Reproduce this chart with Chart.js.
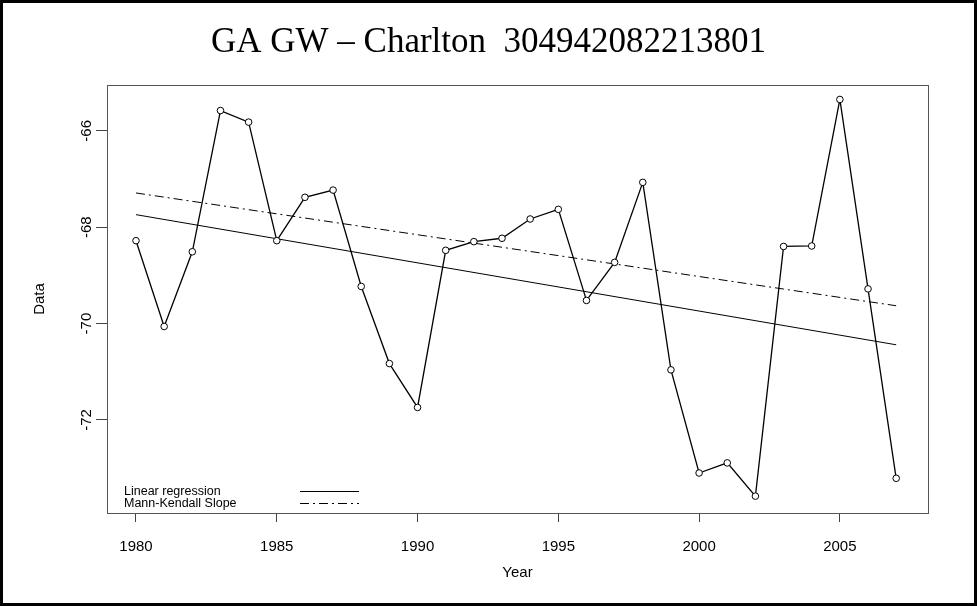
<!DOCTYPE html>
<html>
<head>
<meta charset="utf-8">
<script src="https://cdn.jsdelivr.net/npm/chart.js@4/dist/chart.umd.min.js"></script>
<style>
  body { margin: 0; background: #fff; }
  canvas { display: block; }
</style>
</head>
<body>
<canvas id="gwChart" width="977" height="606"></canvas>
<script>
const years = [1980, 1981, 1982, 1983, 1984, 1985, 1986, 1987, 1988, 1989,
  1990, 1991, 1992, 1993, 1994, 1995, 1996, 1997, 1998, 1999,
  2000, 2001, 2002, 2003, 2004, 2005, 2006, 2007];
const levels = [-68.28, -70.06, -68.51, -65.58, -65.82, -68.28, -67.38, -67.23, -69.23, -70.83,
  -71.74, -68.48, -68.30, -68.23, -67.83, -67.63, -69.52, -68.73, -67.07, -70.96,
  -73.10, -72.89, -73.58, -68.40, -68.39, -65.35, -69.28, -73.21];

// trend lines, end points only
const trendYears = [1980, 2007];
const linearFit = [-67.74, -70.44];
const mannKendall = [-67.29, -69.63];

const xTicks = [1980, 1985, 1990, 1995, 2000, 2005];
const yTicks = [-72, -70, -68, -66];
const legendLabels = ['Linear regression', 'Mann-Kendall Slope'];

const toPoints = (xs, ys) => xs.map((x, i) => ({ x: x, y: ys[i] }));

// frame, plot box, rotated y labels and legend
const decorations = {
  id: 'decorations',
  beforeDraw(chart) {
    const ctx = chart.ctx;
    ctx.save();
    ctx.fillStyle = '#fff';
    ctx.fillRect(0, 0, chart.width, chart.height);
    ctx.restore();
  },
  afterDraw(chart) {
    const ctx = chart.ctx;
    const area = chart.chartArea;
    const yScale = chart.scales.y;
    ctx.save();

    ctx.strokeStyle = '#555';
    ctx.lineWidth = 1;
    ctx.strokeRect(area.left + 0.5, area.top + 0.5, area.right - area.left, area.bottom - area.top);

    ctx.strokeStyle = '#000';
    ctx.lineWidth = 3;
    ctx.strokeRect(1.5, 1.5, chart.width - 3, chart.height - 3);

    ctx.fillStyle = '#000';
    ctx.font = '15px "Liberation Sans", Arial, sans-serif';
    ctx.textAlign = 'center';
    ctx.textBaseline = 'middle';
    yTicks.forEach(v => {
      ctx.save();
      ctx.translate(87, yScale.getPixelForValue(v));
      ctx.rotate(-Math.PI / 2);
      ctx.fillText(String(v), 0, 0);
      ctx.restore();
    });

    ctx.font = '12.5px "Liberation Sans", Arial, sans-serif';
    ctx.textAlign = 'left';
    ctx.fillText(legendLabels[0], 124, 492);
    ctx.fillText(legendLabels[1], 124, 504);
    ctx.lineWidth = 1;
    ctx.beginPath();
    ctx.moveTo(300, 491.5);
    ctx.lineTo(359, 491.5);
    ctx.stroke();
    ctx.setLineDash([9, 4, 2, 4]);
    ctx.beginPath();
    ctx.moveTo(300, 503.5);
    ctx.lineTo(359, 503.5);
    ctx.stroke();
    ctx.restore();
  }
};

new Chart(document.getElementById('gwChart'), {
  type: 'line',
  data: {
    datasets: [
      {
        label: 'Data',
        data: toPoints(years, levels),
        borderColor: '#000',
        borderWidth: 1.3,
        pointRadius: 3.3,
        pointBorderWidth: 1,
        pointBorderColor: '#000',
        pointBackgroundColor: '#fff',
        tension: 0
      },
      {
        label: legendLabels[0],
        data: toPoints(trendYears, linearFit),
        borderColor: '#000',
        borderWidth: 1,
        pointRadius: 0
      },
      {
        label: legendLabels[1],
        data: toPoints(trendYears, mannKendall),
        borderColor: '#000',
        borderWidth: 1,
        borderDash: [9, 4, 2, 4],
        pointRadius: 0
      }
    ]
  },
  options: {
    responsive: false,
    animation: false,
    layout: { padding: 0 },
    plugins: {
      legend: { display: false },
      tooltip: { enabled: false },
      title: {
        display: true,
        text: 'GA GW \u2013 Charlton  304942082213801',
        color: '#000',
        font: { family: '"Liberation Serif", "Times New Roman", serif', size: 35, weight: 'normal' },
        padding: { top: 22, bottom: 21 }
      }
    },
    scales: {
      x: {
        type: 'linear',
        min: 1978.97,
        max: 2008.13,
        afterBuildTicks: s => { s.ticks = xTicks.map(v => ({ value: v })); },
        afterFit: s => { s.height = 93; },
        ticks: {
          color: '#000',
          padding: 16,
          maxRotation: 0,
          font: { family: '"Liberation Sans", Arial, sans-serif', size: 15 },
          callback: v => String(v)
        },
        grid: { drawOnChartArea: false, drawTicks: true, tickLength: 9, color: '#444' },
        border: { display: true, color: '#444' },
        title: {
          display: true,
          text: 'Year',
          color: '#000',
          font: { family: '"Liberation Sans", Arial, sans-serif', size: 15 },
          padding: { top: 0, bottom: 24 }
        }
      },
      y: {
        type: 'linear',
        min: -73.93,
        max: -65.05,
        afterBuildTicks: s => { s.ticks = yTicks.map(v => ({ value: v })); },
        afterFit: s => { s.width = 107; },
        ticks: { display: false },
        grid: { drawOnChartArea: false, drawTicks: true, tickLength: 11, color: '#444' },
        border: { display: true, color: '#444' },
        title: {
          display: true,
          text: 'Data',
          color: '#000',
          font: { family: '"Liberation Sans", Arial, sans-serif', size: 15 },
          padding: { top: 31, bottom: 0 }
        }
      },
      // empty right margin so the title centres on the whole page
      yRight: {
        type: 'linear',
        position: 'right',
        min: -73.93,
        max: -65.05,
        afterFit: s => { s.width = 49; },
        ticks: { display: false },
        grid: { display: false },
        border: { display: false }
      }
    }
  },
  plugins: [decorations]
});
</script>
</body>
</html>
